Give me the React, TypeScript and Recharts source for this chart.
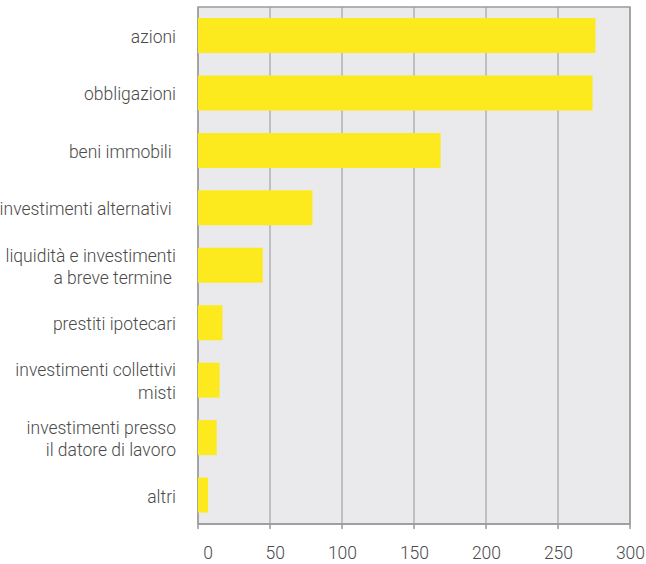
import { BarChart, Bar, XAxis, YAxis, CartesianGrid, ReferenceArea } from 'recharts'

const categories = [
  ['azioni'],
  ['obbligazioni'],
  ['beni immobili '],
  ['investimenti alternativi '],
  ['liquidità e investimenti', 'a breve termine '],
  ['prestiti ipotecari'],
  ['investimenti collettivi', 'misti'],
  ['investimenti presso', 'il datore di lavoro'],
  ['altri'],
]
const values = [276, 274, 168.5, 79.5, 45, 17, 15, 13, 7]
const xTicks = [0, 50, 100, 150, 200, 250, 300]

const data = categories.map((lines, i) => ({ name: lines.join('|'), value: values[i] }))

const textColor = '#4a4a4a'
const font = 'Roboto, sans-serif'

function CategoryTick({ x, y, payload }: any) {
  const lines = String(payload.value).split('|')
  const lh = 22.5
  const start = -((lines.length - 1) * lh) / 2
  return (
    <text
      x={x - 14}
      y={y}
      textAnchor="end"
      fill={textColor}
      fontFamily={font}
      fontWeight={300}
      fontSize={17.5}
      style={{ whiteSpace: 'pre' }}
    >
      {lines.map((l, i) => (
        <tspan key={i} x={x - 14} y={y + 1 + start + i * lh} dy="0.36em">
          {l}
        </tspan>
      ))}
    </text>
  )
}

function ValueTick({ x, y, payload }: any) {
  return (
    <text
      x={x + 15}
      y={y + 28}
      textAnchor="end"
      fill={textColor}
      fontFamily={font}
      fontWeight={300}
      fontSize={17.5}
    >
      {payload.value}
    </text>
  )
}

export default function App() {
  return (
    <div style={{ width: 646, height: 564, background: '#fff' }}>
      <style>{'body{margin:0}'}</style>
      <BarChart
        width={646}
        height={564}
        data={data}
        layout="vertical"
        margin={{ top: 7, right: 16, bottom: 0, left: 0 }}
        barSize={35}
        style={{ overflow: 'visible' }}
      >
        <CartesianGrid
          horizontal={false}
          fill="#EAEAEC"
          stroke="#B2B2B4"
          strokeWidth={1.5}
          verticalValues={xTicks}
        />
        <XAxis
          type="number"
          domain={[0, 300]}
          ticks={xTicks}
          height={40}
          tick={<ValueTick />}
          tickSize={5}
          stroke="#9a9a9a"
          axisLine={{ stroke: '#9a9a9a', strokeWidth: 1.5 }}
          tickLine={{ stroke: '#9a9a9a', strokeWidth: 1.5 }}
        />
        <YAxis
          type="category"
          dataKey="name"
          width={198}
          tick={<CategoryTick />}
          tickLine={false}
          axisLine={false}
        />
        <ReferenceArea x1={0} x2={300} fill="none" stroke="#9a9a9a" strokeWidth={1.5} ifOverflow="visible" />
        <Bar dataKey="value" fill="#FCEA1F" isAnimationActive={false} />
      </BarChart>
    </div>
  )
}
